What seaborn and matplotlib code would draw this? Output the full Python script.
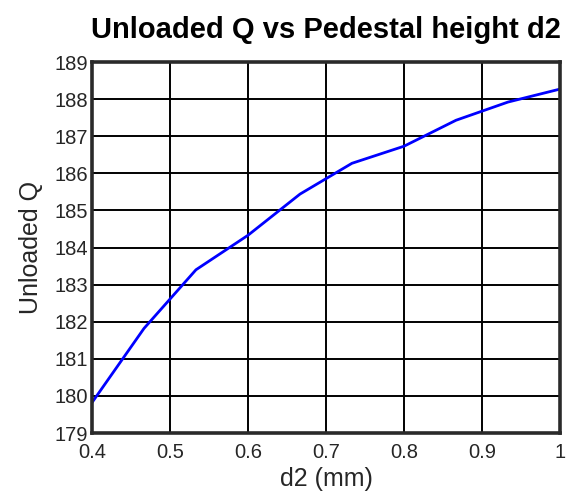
import matplotlib
matplotlib.use("Agg")
import matplotlib.pyplot as plt
import seaborn as sns
import pandas as pd

# Pedestal height sweep and the resulting unloaded Q
d2_mm = [0.4, 0.4667, 0.5333, 0.6, 0.6667, 0.7333, 0.8, 0.8667, 0.9333, 1.0]
unloaded_q = [179.82, 181.82, 183.40, 184.33, 185.44, 186.27, 186.73, 187.43, 187.92, 188.27]

x_ticks = [0.4, 0.5, 0.6, 0.7, 0.8, 0.9, 1.0]
x_tick_labels = ["0.4", "0.5", "0.6", "0.7", "0.8", "0.9", "1"]
y_ticks = list(range(179, 190))

df = pd.DataFrame({"d2": d2_mm, "Q": unloaded_q})

sns.set_theme(style="white")
plt.rcParams["font.family"] = ["Liberation Sans", "DejaVu Sans"]

fig = plt.figure(figsize=(5.73, 4.92), dpi=100)
ax = fig.add_axes([92 / 573, 1 - 433 / 492, (560 - 92) / 573, (433 - 62) / 492])

sns.lineplot(data=df, x="d2", y="Q", ax=ax, color="#0000ff", linewidth=2.0)

ax.set_xlim(0.4, 1.0)
ax.set_ylim(179, 189)
ax.set_xticks(x_ticks)
ax.set_xticklabels(x_tick_labels)
ax.set_yticks(y_ticks)

ax.grid(True, color="black", linewidth=1.4)
ax.set_axisbelow(True)
for sp in ax.spines.values():
    sp.set_visible(True)
    sp.set_color("#2a2a2a")
    sp.set_linewidth(2.6)

ax.tick_params(axis="both", length=0, labelsize=14.5, colors="#262626")
ax.tick_params(axis="y", pad=3)
ax.tick_params(axis="x", pad=7)
ax.set_xlabel("d2 (mm)", fontsize=18, color="#262626", labelpad=4)
ax.set_ylabel("Unloaded Q", fontsize=18, color="#262626", labelpad=8)
ax.set_title("Unloaded Q vs Pedestal height d2", fontsize=21, fontweight="bold",
             color="black", pad=17)

fig.savefig("out.png", dpi=100)
